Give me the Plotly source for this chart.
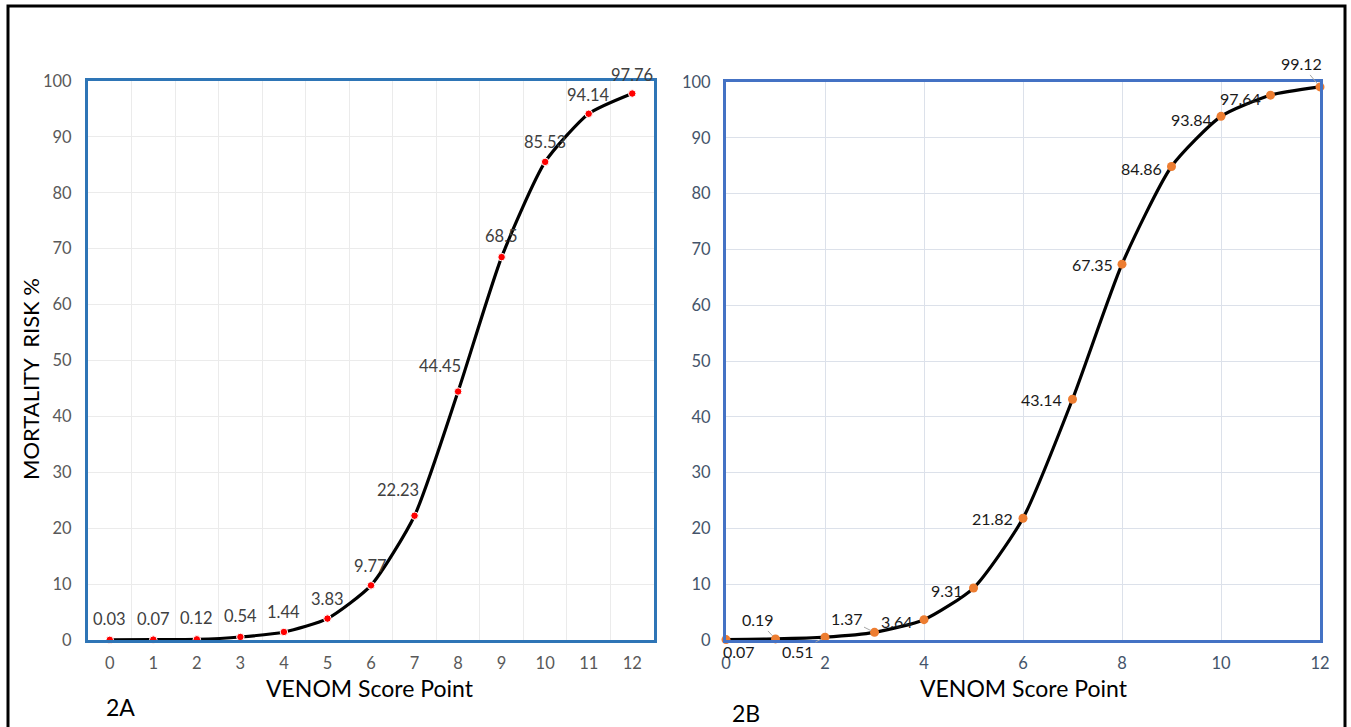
import plotly.graph_objects as go

score_points = [0, 1, 2, 3, 4, 5, 6, 7, 8, 9, 10, 11, 12]
risk_2a = [0.03, 0.07, 0.12, 0.54, 1.44, 3.83, 9.77, 22.23, 44.45, 68.5, 85.53, 94.14, 97.76]
risk_2b = [0.07, 0.19, 0.51, 1.37, 3.64, 9.31, 21.82, 43.14, 67.35, 84.86, 93.84, 97.64, 99.12]
y_ticks = [0, 10, 20, 30, 40, 50, 60, 70, 80, 90, 100]
x_ticks_2a = score_points
x_ticks_2b = [0, 2, 4, 6, 8, 10, 12]

# label offsets (pixels) for panel 2A: (xshift, yshift)
label_pos_2a = [
    (0, 21), (0, 21), (0, 21), (0, 21), (0, 20), (0, 20), (-1, 19),
    (-17, 26), (-18, 26), (0, 21), (0, 20), (0, 19), (0, 19),
]
# label offsets (pixels) for panel 2B: (xshift/ax, yshift/ay, leader?)
label_pos_2b = [
    (13, -12, False), (-18, -19, True), (-27, 14, True), (-28, -14, True),
    (-27, -2, False), (-27, -2, False), (-31, 0, False), (-31, 0, False),
    (-30, 0, False), (-30, -2, False), (-30, -3, False), (-30, -3, False),
    (-19, -23, True),
]

W, H = 1351, 727
FONT = "Lato, 'Open Sans', sans-serif"

def px(x):
    return x / W

def py(y):
    return 1 - y / H

fig = go.Figure()

fig.add_trace(go.Scatter(
    x=score_points, y=risk_2a, mode="lines+markers",
    line=dict(color="black", width=3.2, shape="spline", smoothing=0.6),
    marker=dict(color="#FF0000", size=7.5, line=dict(color="white", width=1)),
    cliponaxis=False, xaxis="x", yaxis="y", showlegend=False, hoverinfo="skip",
))
fig.add_trace(go.Scatter(
    x=score_points, y=risk_2b, mode="lines+markers",
    line=dict(color="black", width=3.2, shape="spline", smoothing=0.6),
    marker=dict(color="#ED7D31", size=9),
    cliponaxis=False, xaxis="x2", yaxis="y2", showlegend=False, hoverinfo="skip",
))

annotations = []
for xv, yv, (dx, dy) in zip(score_points, risk_2a, label_pos_2a):
    annotations.append(dict(
        x=xv, y=yv, xref="x", yref="y", text=f"{yv:g}", showarrow=False,
        xshift=dx, yshift=dy, font=dict(family=FONT, size=16.5, color="#404040"),
    ))
for xv, yv, (dx, dy, leader) in zip(score_points, risk_2b, label_pos_2b):
    if leader:
        annotations.append(dict(
            x=xv, y=yv, xref="x2", yref="y2", text=f"{yv:g}", showarrow=True,
            ax=dx, ay=dy, arrowhead=0, arrowwidth=1, arrowcolor="#A6A6A6",
            standoff=4, font=dict(family=FONT, size=16, color="#1a1a1a"),
        ))
    else:
        annotations.append(dict(
            x=xv, y=yv, xref="x2", yref="y2", text=f"{yv:g}", showarrow=False,
            xshift=dx, yshift=dy, font=dict(family=FONT, size=16, color="#1a1a1a"),
        ))

def paper_text(x, y, text, size, angle=0):
    return dict(x=px(x), y=py(y), xref="paper", yref="paper", text=text,
                xanchor="center", yanchor="middle", textangle=angle,
                showarrow=False, font=dict(family=FONT, size=size, color="black"))

annotations += [
    paper_text(370, 688, "VENOM Score Point", 23),
    paper_text(1024, 688, "VENOM Score Point", 23),
    paper_text(120, 707, "2A", 23),
    paper_text(746, 713, "2B", 23),
    paper_text(30, 379, "MORTALITY  RISK %", 22, -90),
]

fig.update_layout(
    width=W, height=H, autosize=False,
    margin=dict(l=0, r=0, t=0, b=0, pad=0, autoexpand=False),
    paper_bgcolor="white", plot_bgcolor="white",
    annotations=annotations,
    shapes=[dict(type="rect", xref="paper", yref="paper",
                 x0=px(8), x1=px(1345), y0=py(760), y1=py(6),
                 line=dict(color="black", width=3))],
    xaxis=dict(
        domain=[px(88), px(654)], range=[-0.5, 12.5],
        tickvals=x_ticks_2a, ticktext=[str(v) for v in x_ticks_2a],
        showgrid=False, zeroline=False,
        minor=dict(tick0=0.5, dtick=1, showgrid=True, gridcolor="#EBEBEB", gridwidth=1),
        showline=True, mirror=True, linecolor="#2E75B6", linewidth=3,
        ticks="", ticklabelstandoff=6, automargin=False,
        tickfont=dict(family=FONT, size=16.5, color="#595959"),
        anchor="y", fixedrange=True,
    ),
    yaxis=dict(
        domain=[py(640), py(81)], range=[0, 100],
        tickvals=y_ticks, showgrid=True, gridcolor="#EBEBEB", gridwidth=1,
        zeroline=False, showline=True, mirror=True, linecolor="#2E75B6", linewidth=3,
        ticks="", ticklabelstandoff=10, automargin=False,
        tickfont=dict(family=FONT, size=16.5, color="#595959"),
        anchor="x", fixedrange=True,
    ),
    xaxis2=dict(
        domain=[px(726), px(1320)], range=[0, 12],
        tickvals=x_ticks_2b, showgrid=True, gridcolor="#DCE1EA", gridwidth=1,
        zeroline=False, showline=True, mirror=True, linecolor="#4472C4", linewidth=3,
        ticks="", ticklabelstandoff=6, automargin=False,
        tickfont=dict(family=FONT, size=16.5, color="#44546A"),
        anchor="y2", fixedrange=True,
    ),
    yaxis2=dict(
        domain=[py(640), py(82)], range=[0, 100],
        tickvals=y_ticks, showgrid=True, gridcolor="#DCE1EA", gridwidth=1,
        zeroline=False, showline=True, mirror=True, linecolor="#4472C4", linewidth=3,
        ticks="", ticklabelstandoff=9, automargin=False,
        tickfont=dict(family=FONT, size=16.5, color="#44546A"),
        anchor="x2", fixedrange=True,
    ),
)

fig.write_html(
    "out.html",
    config={"displayModeBar": False},
    post_script="document.body.style.margin='0';document.body.style.overflow='hidden';",
)
